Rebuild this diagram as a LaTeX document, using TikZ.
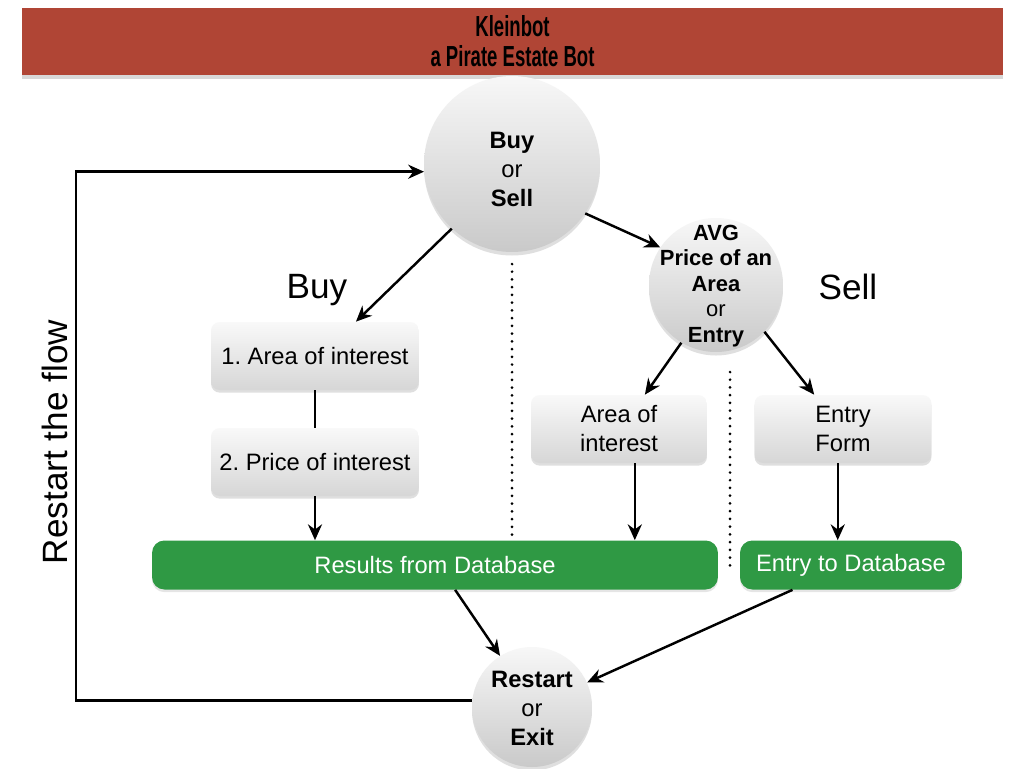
\documentclass[tikz,border=0pt]{standalone}
\usepackage{fontspec}
\setmainfont{Liberation Sans}
\usepackage{graphicx}
\usepackage{tikz}
\usetikzlibrary{arrows, arrows.meta, positioning, shadows}
\definecolor{banner}{RGB}{176,69,53}
\definecolor{dbgreen}{RGB}{47,153,68}
\newcommand{\hd}[1]{\textbf{#1}}
\newcommand{\narrow}[1]{\scalebox{0.64}[1]{\textbf{#1}}}
\tikzset{
  >={Stealth[length=9pt, width=8pt]},
  txt/.style={font=\fontsize{13.5}{16.5}\selectfont},
  big/.style={font=\fontsize{20}{24}\selectfont},
  ball/.style={circle, inner sep=0pt, top color=gray!6, bottom color=gray!42,
    drop shadow={opacity=0.25, shadow xshift=0pt, shadow yshift=-2pt}},
  inball/.style={txt, align=center},
  card/.style={txt, rectangle, rounded corners=5pt, align=center, minimum height=1.36cm,
    top color=gray!5, bottom color=gray!32, drop shadow={opacity=0.25, shadow xshift=0pt, shadow yshift=-1.5pt}},
  dbbox/.style={txt, rectangle, rounded corners=7pt, fill=dbgreen, text=white, minimum height=0.98cm,
    drop shadow={opacity=0.2, shadow xshift=0pt, shadow yshift=-1.5pt}},
  flow/.style={->, line width=1.4pt},
  sep/.style={line width=1.7pt, line cap=round, dash pattern=on 0pt off 4.4pt},
}
\begin{document}
\frenchspacing
\begin{tikzpicture}[x=0.02cm, y=-0.02cm]
      \useasboundingbox[fill=white] (0, 0) rectangle (1024, 768);
      \node[fill=banner, minimum width=19.62cm, minimum height=1.34cm, align=center,
        font=\fontsize{16.5}{17}\selectfont, drop shadow={opacity=0.3, shadow xshift=0pt, shadow yshift=-2pt}]
        (title) at (512.5, 41.5) {\narrow{Kleinbot}\\\narrow{a Pirate Estate Bot}};

      \node[ball, minimum size=3.52cm] (bs) at (512, 164) {};
      \node[inball] (bstext) at (512, 169) {\hd{Buy}\\or\\\hd{Sell}};
      \node[ball, minimum size=2.68cm] (avg) at (716, 285) {};
      \node[inball, font=\fontsize{12.5}{14.5}\selectfont] (avgtext) at (716, 286)
        {\hd{AVG}\\\hd{Price of an}\\\hd{Area}\\or\\\hd{Entry}};
      \node[ball, minimum size=2.4cm] (restart) at (532, 707) {};
      \node[inball] (restarttext) at (532, 708) {\hd{Restart}\\or\\\hd{Exit}};

      \node[card, minimum width=4.16cm] (area1) at (315, 356) {1. Area of interest};
      \node[card, minimum width=4.16cm] (price) at (315, 462) {2. Price of interest};
      \node[card, minimum width=3.52cm] (area2) at (619, 429) {Area of\\interest};
      \node[card, minimum width=3.54cm] (form) at (843, 429) {Entry\\Form};

      \node[dbbox, minimum width=11.32cm] (results) at (435, 565) {Results from Database};
      \node[dbbox, minimum width=4.44cm] (entrydb) at (851, 565) {Entry to Database};

      \node[big] (buylbl) at (317, 290) {Buy};
      \node[big] (selllbl) at (848, 287) {Sell};
      \node[big, rotate=90] (restartlbl) at (55, 442) {Restart the flow};

      \coordinate (turn) at (76, 400);
      \draw[flow] (bs.227) to (area1.40);
      \draw[flow] (bs.326) to (avg.146);
      \draw[line width=1.4pt] (area1) to (price);
      \draw[flow] (price.south) to (price.south |- results.north);
      \draw[flow] (avg.239) to (area2.53);
      \draw[flow] (avg.316) to (form.130);
      \draw[flow] ([xshift=9]area2.south) to ([xshift=9]area2.south |- results.north);
      \draw[flow] ([xshift=-3]form.south) to ([xshift=-3]form.south |- entrydb.north);
      \draw[flow] (results.309) to (restart.122);
      \draw[flow] (entrydb.203) to (restart.24);
      \draw[flow] (restart.174) -| (turn) |- (bs.185);
      \draw[sep] (512, 264) to (512, 536);
      \draw[sep] (730, 372) to (730, 570);
    \end{tikzpicture}
\end{document}
